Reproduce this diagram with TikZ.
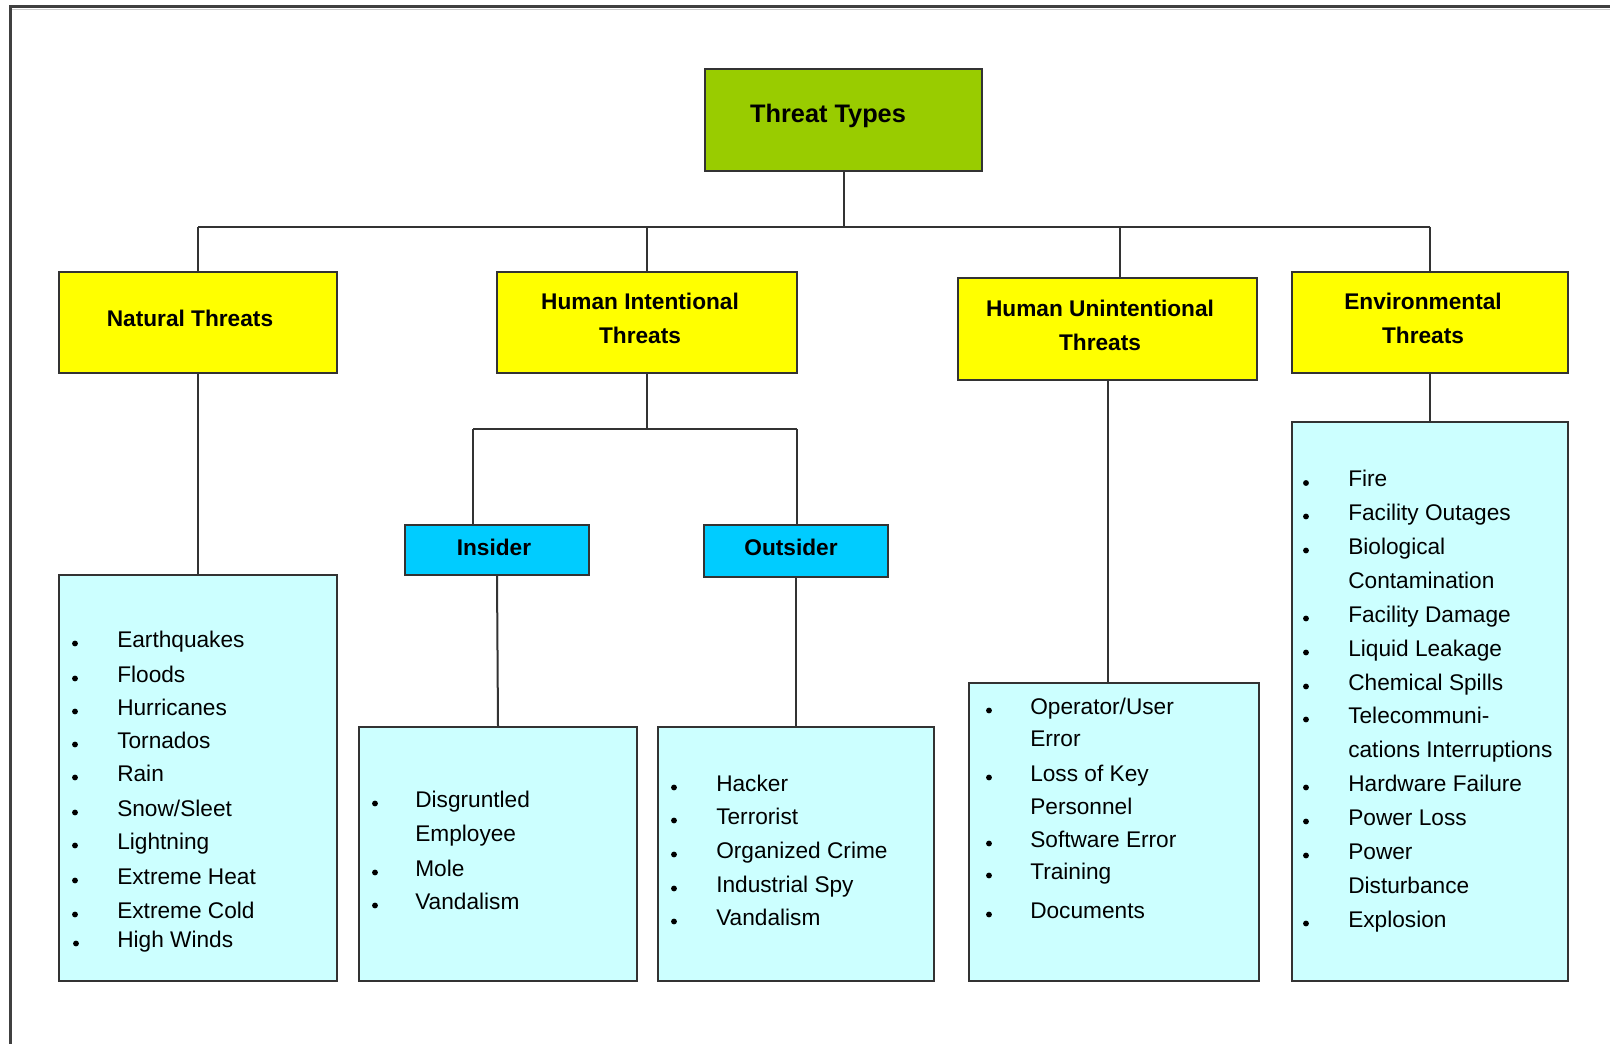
\documentclass[tikz,border=0pt]{standalone}
\usepackage{fontspec}
\setmainfont{Liberation Sans}
\usetikzlibrary{fit}
\definecolor{rootgreen}{HTML}{99CC00}
\definecolor{hdryellow}{HTML}{FFFF00}
\definecolor{subblue}{HTML}{00CCFF}
\definecolor{listcyan}{HTML}{CCFFFF}
\definecolor{edgegray}{HTML}{333333}
% bullet item and continuation line of a list
\newcommand{\bitem}[4]{\fill[black] (#1,#3+3.5) circle[radius=2.2pt]; \node[listitem] at (#2,#3+3.5) {#4};}
\newcommand{\citem}[3]{\node[listitem] at (#1,#2+3.5) {#3};}
\begin{document}
\begin{tikzpicture}[x=0.75pt,y=-0.75pt,
  box/.style={draw=edgegray, line width=1.5pt, inner sep=0pt},
  rootbox/.style={box, fill=rootgreen},
  hdrbox/.style={box, fill=hdryellow},
  subbox/.style={box, fill=subblue},
  listbox/.style={box, fill=listcyan},
  link/.style={draw=edgegray, line width=1.5pt},
  hdr/.style={font=\bfseries\fontsize{17}{25.5}\selectfont, align=center, inner sep=0pt},
  listitem/.style={font=\fontsize{17}{20}\selectfont, anchor=west, inner sep=0pt, text height=0.8em, text depth=0.2em},
]
\fill[white] (0,0) rectangle (1610,1044);
\useasboundingbox (0,0) rectangle (1610,1044);

% frame edges
\draw[black!75, line width=2.25pt] (10,1044) -- (10,7) -- (1610,7);
\draw[black!20, line width=0.75pt] (12,9.5) -- (1610,9.5);

% boxes
\node[rootbox, fit={(705,69) (982,171)}] (root) {};
\node[hdrbox, fit={(59,272) (337,373)}] (nat) {};
\node[hdrbox, fit={(497,272) (797,373)}] (hi) {};
\node[hdrbox, fit={(958,278) (1257,380)}] (hu) {};
\node[hdrbox, fit={(1292,272) (1568,373)}] (env) {};
\node[subbox, fit={(405,525) (589,575)}] (ins) {};
\node[subbox, fit={(704,525) (888,577)}] (out) {};
\node[listbox, fit={(59,575) (337,981)}] (natL) {};
\node[listbox, fit={(359,727) (637,981)}] (insL) {};
\node[listbox, fit={(658,727) (934,981)}] (outL) {};
\node[listbox, fit={(969,683) (1259,981)}] (huL) {};
\node[listbox, fit={(1292,422) (1568,981)}] (envL) {};

% box titles
\node[hdr, font=\bfseries\fontsize{19}{25.5}\selectfont] (rootT) at (828,116) {Threat Types};
\node[hdr] (natT) at (190,318) {Natural Threats};
\node[hdr] (hiT) at (640,318) {Human Intentional\\Threats};
\node[hdr] (huT) at (1100,325) {Human Unintentional\\Threats};
\node[hdr] (envT) at (1423,318) {Environmental\\Threats};
\node[hdr] (insT) at (494,547) {Insider};
\node[hdr] (outT) at (791,547) {Outsider};

% connectors
\coordinate (busL) at (198,227);
\coordinate (busR) at (1430,227);
\coordinate (huDrop) at (1120,227);
\coordinate (hiBus) at (647,429);
\coordinate (subL) at (473,429);
\coordinate (subR) at (797,429);
\draw[link] (root.south) -- (root.south |- busL);
\draw[link] (nat.north |- busL) -- (busR);
\draw[link] (busL) -- (nat.north);
\draw[link] (hi.north |- busL) -- (hi.north);
\draw[link] (huDrop) -- (huDrop |- hu.north);
\draw[link] (busR) -- (env.north);
\draw[link] (nat.south) -- (natL.north);
\draw[link] (hi.south) -- (hiBus);
\draw[link] (subL) -- (subR);
\draw[link] (subL) -- (subL |- ins.north);
\draw[link] (subR) -- (subR |- out.north);
\draw[link] (ins.south) -- (insL.north);
\draw[link] (out.south) -- (outL.north);
\draw[link] (hu.south) -- (hu.south |- huL.north);
\draw[link] (env.south) -- (envL.north);

% natural threats
\bitem{75}{117}{640}{Earthquakes}
\bitem{75}{117}{675}{Floods}
\bitem{75}{117}{708}{Hurricanes}
\bitem{75}{117}{741}{Tornados}
\bitem{75}{117}{774}{Rain}
\bitem{75}{117}{809}{Snow/Sleet}
\bitem{75}{117}{842}{Lightning}
\bitem{75}{117}{877}{Extreme Heat}
\bitem{75}{117}{911}{Extreme Cold}
\bitem{76}{117}{940}{High Winds}

% insider
\bitem{375}{415}{800}{Disgruntled}
\citem{415}{834}{Employee}
\bitem{375}{415}{869}{Mole}
\bitem{375}{415}{902}{Vandalism}

% outsider
\bitem{674}{716}{784}{Hacker}
\bitem{674}{716}{817}{Terrorist}
\bitem{674}{716}{851}{Organized Crime}
\bitem{674}{716}{885}{Industrial Spy}
\bitem{674}{716}{918}{Vandalism}

% human unintentional
\bitem{989}{1030}{707}{Operator/User}
\citem{1030}{739}{Error}
\bitem{989}{1030}{774}{Loss of Key}
\citem{1030}{807}{Personnel}
\bitem{989}{1030}{840}{Software Error}
\bitem{989}{1030}{872}{Training}
\bitem{989}{1030}{911}{Documents}

% environmental
\bitem{1306}{1348}{479.5}{Fire}
\bitem{1306}{1348}{513}{Facility Outages}
\bitem{1306}{1348}{547}{Biological}
\citem{1348}{581}{Contamination}
\bitem{1306}{1348}{615}{Facility Damage}
\bitem{1306}{1348}{649}{Liquid Leakage}
\bitem{1306}{1348}{683}{Chemical Spills}
\bitem{1306}{1348}{716}{Telecommuni-}
\citem{1348}{750}{cations Interruptions}
\bitem{1306}{1348}{784}{Hardware Failure}
\bitem{1306}{1348}{818}{Power Loss}
\bitem{1306}{1348}{852}{Power}
\citem{1348}{886}{Disturbance}
\bitem{1306}{1348}{920}{Explosion}
\end{tikzpicture}
\end{document}
